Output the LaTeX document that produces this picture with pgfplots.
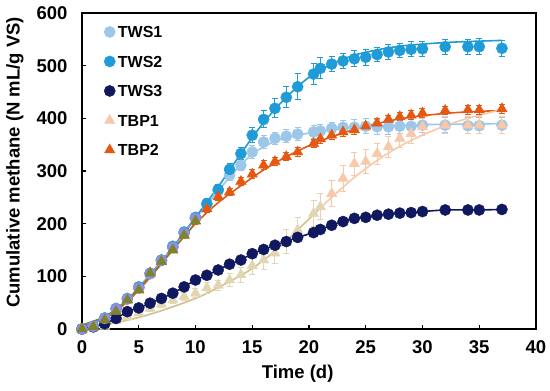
\documentclass[border=0pt]{standalone}
\usepackage{fontspec}
\setmainfont{Liberation Sans}
\usepackage{pgfplots}
\usepackage{pgfplotstable}
\pgfplotsset{compat=1.18}
\definecolor{tws1}{RGB}{157,199,232}
\definecolor{tws2}{RGB}{31,155,215}
\definecolor{tws3}{RGB}{16,24,96}
\definecolor{tbp1}{RGB}{248,200,170}
\definecolor{tbp1e}{RGB}{226,214,178}
\definecolor{tbp1l}{RGB}{214,192,140}
\definecolor{tbp2}{RGB}{228,88,18}
\definecolor{lav}{RGB}{140,145,230}
\definecolor{olv}{RGB}{128,132,40}

\pgfplotstableread{
t v e
0 0 0
1 5 2
2 20 3
3 38 4
4 57 4
5 78 5
6 105 5
7 130 6
8 155 6
9 182 7
10 210 8
11 236 8
12 262 9
13 292 10
14 311 10
15 336 12
16 355 12
17 362 12
18 366 12
19 370 12
20.4 374 12
21 376 12
22 381 12
23 383 12
24 383 14
25 385 14
26 384 14
27 384 14
28 385 14
29 385 14
30 387 14
32 387 14
34 386 15
35 386 15
37 387 15
}\twsone

\pgfplotstableread{
t v e
0 0 0
1 5 2
2 21 3
3 39 4
4 58 4
5 80 5
6 106 6
7 131 6
8 157 7
9 184 8
10 212 8
11 238 10
12 265 10
13 303 12
14 333 12
15 368 14
16 398 16
17 419 18
18 440 20
19 460 25
20.4 484 20
21 495 20
22 503 15
23 509 15
24 513 15
25 516 15
26 521 14
27 526 14
28 529 14
29 531 14
30 532 14
32 536 14
34 536 14
35 536 15
37 533 15
}\twstwo

\pgfplotstableread{
t v
0 0
1 4
2 10
3 20
4 33
5 40
6 49
7 58
8 68
9 80
10 93
11 102
12 112
13 123
14 131
15 143
16 151
17 159
18 166
19 174
20.4 183
21 189
22 197
23 204
24 210
25 212
26 216
27 218
28 220
29 221
30 223
32 226
34 226
35 226
37 227
}\twsthree

\pgfplotstableread{
t v e
0 0 0
1 3 2
2 5 3
3 16 3
4 23 4
5 30 5
6 39 6
7 47 6
8 55 7
9 62 8
10 68 8
11 78 10
12 83 10
13 93 12
14 103 14
15 120 16
16 131 18
17 144 20
18 166 22
19 188 24
20.4 219 25
21 232 25
22 257 25
23 286 25
24 314 22
25 318 22
26 333 20
27 346 20
28 362 18
29 371 18
30 384 16
32 387 16
34 387 16
35 387 16
37 387 16
}\tbpone

\pgfplotstableread{
t v e
0 0 0
1 4 1
2 17 2
3 33 2
4 55 3
5 74 3
6 106 4
7 128 4
8 150 5
9 178 5
10 205 6
11 228 6
12 251 7
13 260 7
14 280 8
15 294 8
16 311 8
17 318 8
18 327 8
19 336 8
20.4 352 8
21 361 8
22 368 8
23 374 8
24 378 8
25 385 8
26 391 8
27 398 8
28 403 8
29 406 8
30 410 8
32 415 8
34 416 8
35 416 8
37 418 8
}\tbptwo

\begin{document}
\begin{tikzpicture}
\useasboundingbox (-82pt,-62pt) rectangle (468pt,329pt);
\begin{axis}[
  scale only axis, width=454pt, height=316pt,
  at={(0,0)}, anchor=south west,
  xmin=0, xmax=40, ymin=0, ymax=600,
  xtick={0,5,...,40}, ytick={0,100,...,600},
  xtick pos=left, ytick pos=left,
  tick align=inside, major tick length=4pt,
  axis line style={line width=1.4pt},
  tick style={line width=1.2pt, black},
  /pgf/number format/assume math mode=true,
  ticklabel style={font=\fontsize{18.5}{20}\selectfont\bfseries},
  yticklabel style={xshift=-11pt},
  xticklabel style={yshift=-8pt},
  xlabel={Time (d)}, ylabel={Cumulative methane (N mL/g VS)},
  label style={font=\fontsize{18.5}{20}\selectfont\bfseries},
  xlabel style={at={(axis description cs:0.475,-0.104)}, anchor=north},
  ylabel style={at={(axis description cs:-0.1476,0.527)}, anchor=center},
  clip=false,
  legend cell align=left,
  legend image code/.code={\path (-6pt,0pt) (6pt,0pt); \draw[#1] plot coordinates {(0pt,0pt)};},
  legend style={at={(axis description cs:0.047,0.966)}, anchor=north west, draw=none, fill=none,
    inner sep=0pt, row sep=13.5pt,
    nodes={inner sep=2pt, text height=12pt, text depth=0pt, font=\fontsize{16}{18}\selectfont\bfseries}},
]
% fitted curves
\addplot[forget plot, tws1, line width=1.6pt, smooth] coordinates {(0,3) (2,22) (4,56) (6,102) (8,155) (10,210) (12,262) (13,288) (14,312) (15,332) (16,346) (17,356) (18,363) (20,372) (22,378) (25,384) (30,388) (37,390)};
\addplot[forget plot, tws2, line width=1.6pt, smooth] coordinates {(0,5) (2,22) (4,55) (6,100) (8,155) (10,212) (12,270) (14,333) (16,392) (18,440) (20,478) (22,503) (24,520) (26,530) (28,537) (30,541) (33,545) (37,548)};
\addplot[forget plot, tbp2, line width=1.6pt, smooth] coordinates {(0,4) (2,20) (4,52) (6,98) (8,150) (10,200) (12,240) (14,272) (16,302) (18,327) (20,348) (22,365) (24,379) (26,390) (28,399) (30,405) (33,411) (37,415)};
\addplot[forget plot, tbp1l, line width=1.6pt, smooth] coordinates {(0,2) (3,12) (6,28) (10,58) (13,90) (15,115) (17,148) (19,188) (21,230)};
\addplot[forget plot, tbp1, line width=1.6pt, smooth] coordinates {(21,230) (22,250) (24,288) (26,320) (28,347) (30,368) (32,386) (34,400) (37,417)};
\addplot[forget plot, lav, line width=1.4pt, smooth] coordinates {(0,2) (2,21) (4,56) (6,104) (8,155) (10,210)};
\addplot[forget plot, olv, line width=1.2pt, smooth] coordinates {(0,8) (2,24) (4,55) (6,100) (8,150) (10,202)};
\addplot[forget plot, tws3, line width=1.6pt, smooth] table[x=t, y=v] {\twsthree};
% data
\addplot[forget plot, only marks, mark=*, mark size=5.6pt, color=tws1,
  error bars/.cd, y dir=both, y explicit, error bar style={line width=1pt},
  error mark options={rotate=90, mark size=3pt, line width=1pt}] table[x=t, y=v, y error=e] {\twsone};
\addplot[forget plot, only marks, mark=*, mark size=5.6pt, color=tws2,
  error bars/.cd, y dir=both, y explicit, error bar style={line width=1pt},
  error mark options={rotate=90, mark size=3pt, line width=1pt}] table[x=t, y=v, y error=e] {\twstwo};
\addplot[forget plot, only marks, mark=triangle*, mark size=6pt, color=tbp1e, restrict x to domain=0:21,
  error bars/.cd, y dir=both, y explicit, error bar style={line width=1pt},
  error mark options={rotate=90, mark size=3pt, line width=1pt}] table[x=t, y=v, y error=e] {\tbpone};
\addplot[forget plot, only marks, mark=triangle*, mark size=6pt, color=tbp1, restrict x to domain=21.5:40,
  error bars/.cd, y dir=both, y explicit, error bar style={line width=1pt},
  error mark options={rotate=90, mark size=3pt, line width=1pt}] table[x=t, y=v, y error=e] {\tbpone};
\addplot[forget plot, only marks, mark=triangle*, mark size=6pt, color=tbp2,
  error bars/.cd, y dir=both, y explicit, error bar style={line width=1pt},
  error mark options={rotate=90, mark size=3pt, line width=1pt}] table[x=t, y=v, y error=e] {\tbptwo};
\addplot[forget plot, only marks, mark=*, mark size=5.6pt, color=tws3] table[x=t, y=v] {\twsthree};
% early overlapping markers
\addplot[forget plot, only marks, mark=*, mark size=5.6pt, color=lav, restrict x to domain=0:10.5] table[x=t, y=v] {\twsone};
\addplot[forget plot, only marks, mark=triangle*, mark size=6pt, color=olv, restrict x to domain=0:10.5] table[x=t, y=v] {\tbptwo};
% legend
\addlegendimage{only marks, mark=*, mark size=5.6pt, color=tws1}
\addlegendentry{TWS1}
\addlegendimage{only marks, mark=*, mark size=5.6pt, color=tws2}
\addlegendentry{TWS2}
\addlegendimage{only marks, mark=*, mark size=5.6pt, color=tws3}
\addlegendentry{TWS3}
\addlegendimage{only marks, mark=triangle*, mark size=6pt, color=tbp1}
\addlegendentry{TBP1}
\addlegendimage{only marks, mark=triangle*, mark size=6pt, color=tbp2}
\addlegendentry{TBP2}
\end{axis}
\end{tikzpicture}
\end{document}
